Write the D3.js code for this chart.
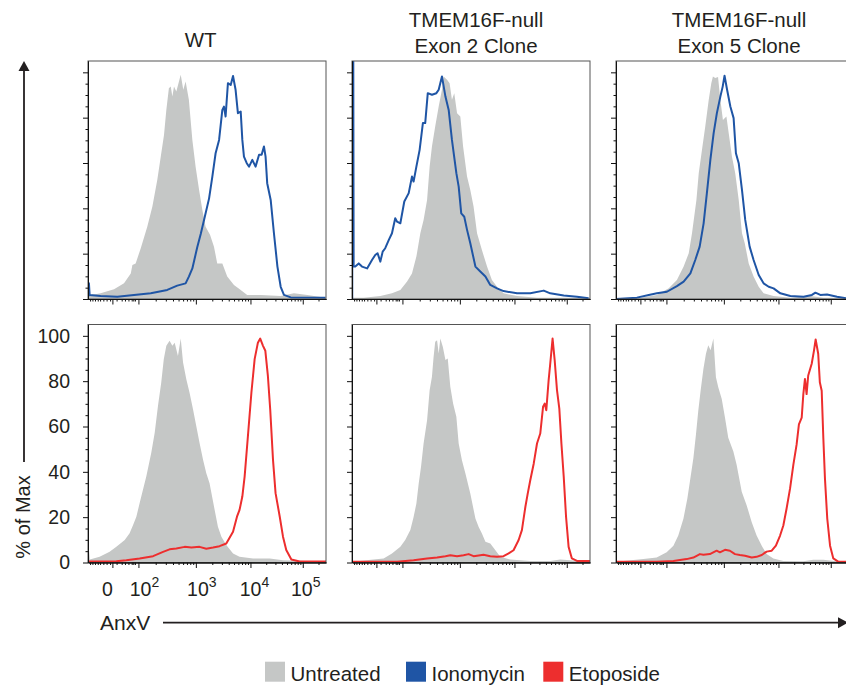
<!DOCTYPE html>
<html>
<head>
<meta charset="utf-8">
<script src="https://cdn.jsdelivr.net/npm/d3@7"></script>
<style>
  body { margin: 0; background: #fff; }
  text { font-family: "Liberation Sans", Arial, sans-serif; fill: #231f20; }
</style>
</head>
<body>
<svg id="chart" width="846" height="686"></svg>
<script>
// AnxV histograms, x = display channel (0-1024, logicle), y = % of max
const wtUntreatedTop = [[0,1.5],[4,1.5],[54,2.5],[112,4.3],[155,6.9],[184,11.3],[191,15],[205,15.7],[227,22.4],[255,31.9],[277,40.8],[298,52.5],[313,62.8],[327,72.4],[337,83.4],[348,93],[356,93.7],[363,89.3],[370,93.7],[380,91.5],[399,98.9],[410,92.3],[420,96],[434,87.9],[449,70.2],[463,58.4],[478,48.1],[492,39.3],[506,31.9],[525,28.3],[542,23.1],[556,15.7],[578,15.7],[599,9.9],[628,6.2],[657,4],[685,1.8],[743,1.8],[829,1.3],[886,2.5],[944,1.8],[1022,0.6]]
const wtIonomycin = [[1,1],[4,6.9],[7,1.8],[54,1.3],[126,1],[198,1.8],[270,2.5],[341,4],[384,5.9],[420,6.9],[434,9.9],[449,13.5],[470,22.8],[485,28.7],[502,36.1],[521,44.4],[535,54],[549,64.3],[564,70.2],[578,83.4],[585,84.9],[592,80.5],[602,95.2],[614,94.4],[624,98.4],[635,92.3],[645,82],[657,82.7],[664,70.2],[671,62.8],[683,59.9],[693,58.4],[707,61.4],[721,58.4],[736,63.6],[747,63.6],[757,67.3],[764,62.8],[771,51.1],[786,43.7],[800,29],[815,14.3],[829,5.4],[843,1.8],[872,0.7],[1022,0.6]]

const ex2UntreatedTop = [[0,0.6],[50,0.6],[122,1.3],[172,2.5],[208,4],[237,7.7],[258,11.3],[277,18.7],[294,29],[308,34.9],[323,43.7],[334,58.4],[344,67.3],[358,76.1],[373,84.9],[387,92.3],[394,98.2],[409,96.7],[420,95.2],[430,87.9],[440,90.8],[452,82],[466,80.5],[478,67.3],[495,54],[509,48.1],[523,40.8],[538,29],[559,21.6],[581,14.3],[602,8.4],[624,5.4],[652,2.5],[710,1.3],[796,0.6],[1024,0.6]]
const ex2Ionomycin = [[1,0],[2,140],[5,140],[7,14.3],[14,14.3],[29,15.7],[43,14.3],[65,13.5],[86,17.2],[100,19.4],[110,20.2],[122,16.5],[132,20.9],[143,22.4],[158,26],[172,29],[186,35.6],[194,34.1],[208,33.4],[225,43],[244,46.7],[258,54],[265,51.8],[277,58.4],[291,65.8],[305,77.6],[315,77.6],[326,90.8],[344,90.1],[363,90.8],[373,92.3],[387,98.2],[402,89.3],[416,83.4],[430,70.2],[449,55.5],[459,49.6],[470,37.8],[483,36.3],[495,30.5],[509,24.6],[531,14.3],[552,12.1],[574,9.9],[595,6.2],[624,4.7],[652,3.5],[710,2.5],[767,2.5],[825,3.7],[853,2.5],[911,1.5],[968,1],[1018,0.3]]

const ex5UntreatedTop = [[0,0.3],[105,0.6],[176,1.8],[227,4.7],[262,8.4],[291,14.3],[313,20.2],[327,29],[346,43.7],[356,55.5],[370,65.8],[384,76.1],[399,87.9],[410,95.2],[417,98.2],[427,97.5],[439,97.9],[449,87.9],[460,79],[475,80.5],[485,73.1],[499,62.8],[513,55.5],[528,43.7],[542,29],[554,24.6],[571,15.7],[592,9.9],[614,5.4],[635,2.5],[678,1.3],[750,0.6],[836,1.3],[893,0.6],[1024,0.5]]
const ex5Ionomycin = [[0,0],[90,0.6],[141,1.8],[176,2.5],[219,3.2],[262,5.7],[291,7.7],[320,11.3],[341,17.2],[360,23.1],[377,33.4],[391,46.7],[406,61.4],[420,73.1],[434,82],[449,89.3],[459,93.7],[467,98.5],[478,92.3],[492,84.9],[506,79.8],[516,64.3],[528,59.9],[542,48.1],[556,34.9],[575,23.1],[592,17.2],[614,10.6],[635,6.9],[657,5.4],[678,4.7],[707,2.5],[750,1.3],[807,1],[843,1.8],[858,2.8],[879,1.8],[908,2],[951,1],[991,0.3],[1024,0.3]]

const wtUntreatedBottom = [[0,7.2],[3,6.9],[8,1.3],[50,2.5],[93,4.7],[122,6.9],[158,9.9],[179,12.9],[194,16.5],[208,20.2],[222,26.1],[251,38],[272,48.3],[287,57.2],[301,69],[315,79.3],[326,89.7],[337,95.6],[351,97.8],[363,95.6],[373,97],[387,91.1],[399,98.8],[409,88.2],[423,80.8],[437,74.9],[452,67.5],[466,60.1],[480,52.7],[495,45.3],[509,39.4],[523,35],[545,23.2],[559,15.8],[574,11.4],[595,7.7],[624,4],[652,2.5],[710,1.8],[782,1.8],[839,1],[939,0.7],[1011,0.6],[1024,0.6]]
const wtEtoposide = [[0,0.4],[50,0.4],[122,0.6],[165,1],[222,1.8],[280,2.8],[323,4.7],[351,5.8],[380,6.2],[416,6.9],[445,6.6],[480,6.9],[509,6.1],[538,6.6],[566,7.2],[595,8.4],[624,13.6],[641,20.2],[652,23.2],[664,29.1],[674,38],[688,55.7],[703,74.9],[717,89.7],[731,97],[741,98.8],[753,95.6],[763,93.4],[774,82.3],[784,67.5],[796,45.3],[807,30.6],[825,20.2],[839,11.4],[853,5.5],[875,1.3],[911,0.4],[1011,0.4],[1024,0.4]]

const ex2UntreatedBottom = [[0,0.3],[93,1.3],[136,1.8],[172,4],[208,6.9],[229,9.9],[251,14.3],[265,20.1],[277,26],[287,34.9],[297,42.2],[308,52.5],[323,62.8],[334,76],[344,81.9],[351,90.7],[358,97.4],[366,98.1],[373,92.2],[380,98.8],[391,95.1],[402,89.3],[412,90],[423,77.5],[435,70.1],[449,64.3],[459,52.5],[473,45.1],[488,39.3],[509,30.4],[531,19.4],[545,15.7],[559,12.8],[574,9.1],[595,8.4],[617,5.4],[638,2.5],[681,1.3],[767,0.7],[853,0.7],[896,1.3],[939,1],[1024,0.3]]
const ex2Etoposide = [[0,0.3],[194,0.3],[265,1],[323,1.8],[366,2.2],[402,2.8],[423,3.2],[452,2.8],[480,3.2],[502,3.7],[523,2.8],[545,3.1],[566,3.4],[595,2.8],[624,2.5],[652,2.8],[674,4],[695,5.4],[717,9.9],[731,14.3],[746,24.6],[756,30.4],[767,36.3],[782,43.7],[796,52.5],[810,56.9],[822,68.7],[829,70.1],[836,67.2],[846,80.4],[853,87.8],[863,98.8],[872,89.3],[882,76],[892,67.9],[901,52.5],[911,37.8],[921,20.1],[932,6.9],[946,1.8],[968,0.7],[1024,0.7]]

const ex5UntreatedBottom = [[0,0.3],[118,1.5],[175,2.2],[218,4.5],[247,7.4],[268,11.9],[290,19.3],[307,28.2],[318,35.7],[333,46.1],[344,56.5],[354,66.9],[364,75.8],[376,85.4],[387,92.1],[397,95.8],[407,93.6],[419,98.8],[430,81.7],[440,77.3],[455,72.1],[469,63.9],[483,55],[505,49],[519,43.1],[541,31.2],[562,25.3],[584,17.8],[605,11.9],[627,7.4],[648,3.7],[677,1.8],[720,0.7],[806,0.6],[849,1.2],[892,1.2],[949,0.6],[989,0.4],[1024,0.3]]
const ex5Etoposide = [[0,0.3],[175,0.3],[247,0.7],[304,1.5],[333,2.2],[361,3.7],[376,3.4],[404,3.7],[433,5.2],[447,4.5],[469,5.6],[490,5.2],[512,3.7],[533,3.3],[555,3],[584,2.2],[605,2.5],[627,3.3],[648,4.8],[670,5.2],[688,7.4],[706,11.9],[720,16.3],[734,23.8],[749,32.7],[763,43.1],[777,52],[787,60.9],[799,63.9],[806,74.3],[813,81],[820,74.3],[827,82.5],[842,87.7],[852,93.6],[859,98.4],[870,92.1],[877,79.5],[885,75.8],[892,55],[899,37.1],[909,19.3],[921,7.4],[935,1.8],[956,0.4],[989,0.3],[1024,0.3]]

const columnTitles = [["WT"], ["TMEM16F-null", "Exon 2 Clone"], ["TMEM16F-null", "Exon 5 Clone"]]
const yTicks = [0, 20, 40, 60, 80, 100]
const yMinorTicks = [5, 10, 15, 25, 30, 35, 45, 50, 55, 65, 70, 75, 85, 90, 95]
// channels of the labelled x ticks: 0, 10^2, 10^3, 10^4, 10^5
const xTickChannels = [105, 217, 464, 699, 924]
const xTickLabels = [["0", ""], ["10", "2"], ["10", "3"], ["10", "4"], ["10", "5"]]
const xLowTicks = [9, 19, 30, 42, 52, 66, 80, 95, 123, 145, 159, 174, 188, 195, 202]
const legendNames = ["Untreated", "Ionomycin", "Etoposide"]

const gray = "#c5c7c6"
const blue = "#1f55a5"
const red = "#ed2e2e"
const legendColors = [gray, blue, red]

const W = 238, H = 238
const colX = [88, 352, 616]
const rowY = [61, 324.5]

const svg = d3.select("#chart")
const x = d3.scaleLinear().domain([0, 1024]).range([0, W])
const y = d3.scaleLinear().domain([0, 105]).range([H, 0])

// minor ticks inside each decade
let xMinorTicks = xLowTicks.slice()
xTickChannels.slice(1).forEach((c, i, arr) => {
  let next = i < arr.length - 1 ? arr[i + 1] : c + (c - arr[i - 1])
  for (let k = 2; k <= 9; k++) {
    let ch = c + (next - c) * Math.log10(k)
    if (ch < 1024) xMinorTicks.push(ch)
  }
})

const panels = [
  {col: 0, row: 0, fill: wtUntreatedTop, line: wtIonomycin, color: blue},
  {col: 1, row: 0, fill: ex2UntreatedTop, line: ex2Ionomycin, color: blue},
  {col: 2, row: 0, fill: ex5UntreatedTop, line: ex5Ionomycin, color: blue},
  {col: 0, row: 1, fill: wtUntreatedBottom, line: wtEtoposide, color: red},
  {col: 1, row: 1, fill: ex2UntreatedBottom, line: ex2Etoposide, color: red},
  {col: 2, row: 1, fill: ex5UntreatedBottom, line: ex5Etoposide, color: red}
]

const area = d3.area().x(d => x(d[0])).y0(y(0)).y1(d => y(d[1]))
const line = d3.line().x(d => x(d[0])).y(d => y(d[1]))

svg.append("clipPath").attr("id", "clip")
  .append("rect").attr("width", W).attr("height", H)

panels.forEach((p, i) => {
  const g = svg.append("g").attr("transform", `translate(${colX[p.col]},${rowY[p.row]})`)
  const plot = g.append("g").attr("clip-path", "url(#clip)")
  plot.append("path").datum(p.fill).attr("d", area).attr("fill", gray)
  plot.append("path").datum(p.line).attr("d", line)
    .attr("fill", "none").attr("stroke", p.color).attr("stroke-width", 2).attr("stroke-linejoin", "round")

  g.append("rect").attr("width", W).attr("height", H)
    .attr("fill", "none").attr("stroke", "#555").attr("stroke-width", 1)

  // y axis
  g.append("g").call(d3.axisLeft(y).tickValues(yMinorTicks).tickSize(2.5).tickSizeOuter(0).tickFormat(""))
  g.append("g").call(d3.axisLeft(y).tickValues(yTicks).tickSize(5).tickSizeOuter(0).tickFormat(""))
  // x axis
  g.append("g").attr("transform", `translate(0,${H})`)
    .call(d3.axisBottom(x).tickValues(xMinorTicks).tickSize(2.5).tickSizeOuter(0).tickFormat(""))
  g.append("g").attr("transform", `translate(0,${H})`)
    .call(d3.axisBottom(x).tickValues(xTickChannels).tickSize(5.5).tickSizeOuter(0).tickFormat(""))
  g.selectAll(".domain").attr("stroke", "#111")
  g.selectAll(".tick line").attr("stroke", "#111")

  if (i === 3) {
    g.selectAll(".ylab").data(yTicks).enter().append("text")
      .attr("x", -18).attr("y", d => y(d)).attr("dy", "0.35em")
      .attr("text-anchor", "end").style("font-size", "19.5px")
      .text(d => d)
    const nudge = [-5, 6, 6, 4, 3]
    const lab = g.selectAll(".xlab").data(xTickChannels).enter().append("text")
      .attr("x", (d, j) => x(d) + nudge[j]).attr("y", H + 33.5)
      .attr("text-anchor", "middle").style("font-size", "19.5px")
    lab.append("tspan").text((d, j) => xTickLabels[j][0])
    lab.append("tspan").attr("dy", -9).style("font-size", "14px").text((d, j) => xTickLabels[j][1])
  }
})

// column titles
const titleX = [200.7, 476, 739]
columnTitles.forEach((lines, c) => {
  lines.forEach((t, k) => {
    svg.append("text").attr("x", titleX[c])
      .attr("y", lines.length === 1 ? 46.7 : 26.7 + k * 26)
      .attr("text-anchor", "middle").style("font-size", "20.5px").text(t)
  })
})

// axis arrows
const arrowHead = (tx, ty, ang) => {
  svg.append("path").attr("d", "M0,0L-10,-5.5L-10,5.5Z")
    .attr("transform", `translate(${tx},${ty}) rotate(${ang})`).attr("fill", "#231f20")
}
svg.append("line").attr("x1", 24).attr("x2", 24).attr("y1", 462).attr("y2", 68)
  .attr("stroke", "#231f20").attr("stroke-width", 1.8)
arrowHead(24, 61, -90)
svg.append("text").attr("transform", "translate(29.5,517) rotate(-90)")
  .attr("text-anchor", "middle").style("font-size", "20px").text("% of Max")

svg.append("line").attr("x1", 163).attr("x2", 840).attr("y1", 622.7).attr("y2", 622.7)
  .attr("stroke", "#231f20").attr("stroke-width", 1.8)
arrowHead(848, 622.7, 0)
svg.append("text").attr("x", 100).attr("y", 629.5).style("font-size", "21px").text("AnxV")

// legend
const legX = [265, 406, 543.3]
legendNames.forEach((n, i) => {
  svg.append("rect").attr("x", legX[i]).attr("y", 661.7).attr("width", 20).attr("height", 20)
    .attr("fill", legendColors[i])
  svg.append("text").attr("x", legX[i] + 25.5).attr("y", 680.5).style("font-size", "20.5px").text(n)
})
</script>
</body>
</html>
